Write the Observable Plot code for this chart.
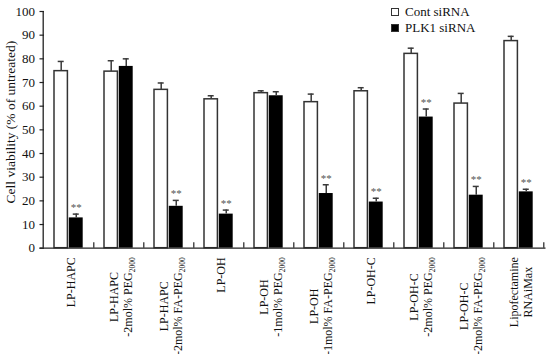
<!DOCTYPE html>
<html>
<head>
<meta charset="utf-8">
<script src="https://cdn.jsdelivr.net/npm/d3@7"></script>
<script src="https://cdn.jsdelivr.net/npm/@observablehq/plot@0.6"></script>
<style>
  body { margin: 0; background: #fff; }
  #wrap { position: relative; width: 550px; height: 354px; font-family: "Liberation Serif", "Times New Roman", serif; }
  .leg { position: absolute; left: 391px; font-size: 13px; line-height: 15px; color: #111; white-space: nowrap; }
  .sw { display: inline-block; box-sizing: border-box; width: 8px; height: 8px; border: 1px solid #333; margin-right: 6px; vertical-align: 0px; }
</style>
</head>
<body>
<div id="wrap"></div>
<script>
const categories = [
  "LP-HAPC",
  "LP-HAPC\n-2mol% PEG2000",
  "LP-HAPC\n-2mol% FA-PEG2000",
  "LP-OH",
  "LP-OH\n-1mol% PEG2000",
  "LP-OH\n-1mol% FA-PEG2000",
  "LP-OH-C",
  "LP-OH-C\n-2mol% PEG2000",
  "LP-OH-C\n-2mol% FA-PEG2000",
  "Lipofectamine\nRNAiMax"
];
const seriesNames = ["Cont siRNA", "PLK1 siRNA"];
const contValues = [74.8, 74.6, 66.9, 62.9, 65.5, 61.7, 66.3, 82.1, 61.1, 87.5];
const contErrors = [4.1, 4.6, 2.9, 1.5, 1.0, 3.4, 1.5, 2.4, 4.3, 2.0];
const plkValues  = [12.8, 76.8, 17.7, 14.4, 64.4, 23.1, 19.5, 55.4, 22.4, 23.8];
const plkErrors  = [1.6, 3.2, 2.5, 1.7, 1.7, 3.7, 1.6, 3.4, 3.7, 1.1];
const plkSignificance = ["**", "", "**", "**", "", "**", "**", "**", "**", "**"];
const yTicks = [0, 10, 20, 30, 40, 50, 60, 70, 80, 90, 100];
const yLabel = "Cell viability (% of untreated)";

const cont = categories.map((c, i) => ({cat: c, series: seriesNames[0], value: contValues[i], error: contErrors[i]}));
const plk = categories.map((c, i) => ({cat: c, series: seriesNames[1], value: plkValues[i], error: plkErrors[i], sig: plkSignificance[i]}));

const W = 550, H = 354, mL = 39.5, mR = 4.5, mT = 11, mB = 106.3;
const frameW = W - mL - mR, frameH = H - mT - mB;
const bw = frameW / categories.length;
const axisColor = "#222", barStroke = "#333", errColor = "#3a3a3a";
const wL = 11, wR = 25, kL = 25.8, kR = 40.3;
const wC = (wL + wR) / 2 - bw / 2, kC = (kL + kR) / 2 - bw / 2;

const chart = Plot.plot({
  width: W, height: H,
  marginLeft: mL, marginRight: mR, marginTop: mT, marginBottom: mB,
  style: {fontFamily: "'Liberation Serif', 'Times New Roman', serif", fontSize: "13px", background: "#fff", color: "#111"},
  x: {type: "band", domain: categories, padding: 0, axis: null},
  y: {domain: [0, 100], axis: null},
  marks: [
    // bars
    Plot.barY(cont, {x: "cat", y: "value", fill: "#fff", stroke: barStroke, strokeWidth: 1.5, insetLeft: wL, insetRight: bw - wR}),
    Plot.barY(plk, {x: "cat", y: "value", fill: "#000", insetLeft: kL, insetRight: bw - kR}),
    // error bars (upper only)
    Plot.ruleX(cont, {x: "cat", y1: "value", y2: d => d.value + d.error, dx: wC, stroke: errColor, strokeWidth: 1.5}),
    Plot.ruleX(plk, {x: "cat", y1: "value", y2: d => d.value + d.error, dx: kC, stroke: errColor, strokeWidth: 1.5}),
    Plot.tickY(cont, {x: "cat", y: d => d.value + d.error, insetLeft: (wL + wR) / 2 - 3.3, insetRight: bw - (wL + wR) / 2 - 3.3, stroke: errColor, strokeWidth: 1.5}),
    Plot.tickY(plk, {x: "cat", y: d => d.value + d.error, insetLeft: (kL + kR) / 2 - 3.3, insetRight: bw - (kL + kR) / 2 - 3.3, stroke: errColor, strokeWidth: 1.5}),
    // significance marks
    Plot.text(plk.filter(d => d.sig), {x: "cat", y: d => d.value + d.error, text: "sig", dx: kC, dy: -6.5, fontSize: 11, fill: "#555"}),
    // axes lines
    Plot.ruleY([0], {stroke: axisColor, strokeWidth: 1.3}),
    Plot.tickX([categories[0]], {x: d => d, dx: -bw / 2, stroke: axisColor, strokeWidth: 1.3}),
    // y ticks (inward) and labels
    Plot.tickY(yTicks, {y: d => d, insetRight: frameW - 4.5, stroke: axisColor, strokeWidth: 1.2}),
    Plot.text(yTicks, {y: d => d, text: d => String(d), frameAnchor: "left", textAnchor: "end", dx: -5, fontSize: 13, fill: "#111"}),
    // x ticks at category boundaries (inward)
    Plot.tickX(categories, {x: d => d, dx: bw / 2, insetTop: frameH - 5.5, stroke: axisColor, strokeWidth: 1.2}),
    // x labels
    Plot.text(categories, {x: d => d, text: d => d, frameAnchor: "bottom", rotate: -90, textAnchor: "middle", lineAnchor: "middle", lineHeight: 1.18, dx: 2, dy: 9, fontSize: 12, fill: "#111", ariaDescription: "xlabels"}),
    // y axis title
    Plot.text([yLabel], {text: d => d, frameAnchor: "left", rotate: -90, textAnchor: "middle", lineAnchor: "middle", dx: -29.5, dy: -7.8, fontSize: 13.5, fill: "#111"})
  ]
});

const wrap = document.getElementById("wrap");
wrap.appendChild(chart);

// subscripts and top alignment of the rotated x labels
const svgNS = "http://www.w3.org/2000/svg";
chart.querySelectorAll('g[aria-description="xlabels"] text').forEach(t => {
  let parts = t.querySelectorAll("tspan");
  const lines = parts.length ? Array.from(parts) : [t];
  lines.forEach(el => {
    const s = el.textContent;
    const m = s.match(/^(.*PEG)(2000)$/);
    if (m) {
      el.textContent = m[1];
      const sub = document.createElementNS(svgNS, "tspan");
      sub.setAttribute("font-size", "7.5");
      sub.setAttribute("dy", "2.5");
      sub.textContent = m[2];
      el.appendChild(sub);
    }
  });
  parts = t.querySelectorAll(":scope > tspan");
  const w = t.getBBox().width;
  if (parts.length) parts.forEach(p => p.setAttribute("x", -w / 2));
  else t.setAttribute("x", -w / 2);
});

// legend
const legendItems = [
  {name: seriesNames[0], fill: "#fff", top: 3.5},
  {name: seriesNames[1], fill: "#000", top: 19.5}
];
legendItems.forEach(it => {
  const d = document.createElement("div");
  d.className = "leg";
  d.style.top = it.top + "px";
  const sw = document.createElement("span");
  sw.className = "sw";
  sw.style.background = it.fill;
  d.appendChild(sw);
  d.appendChild(document.createTextNode(it.name));
  wrap.appendChild(d);
});
</script>
</body>
</html>
